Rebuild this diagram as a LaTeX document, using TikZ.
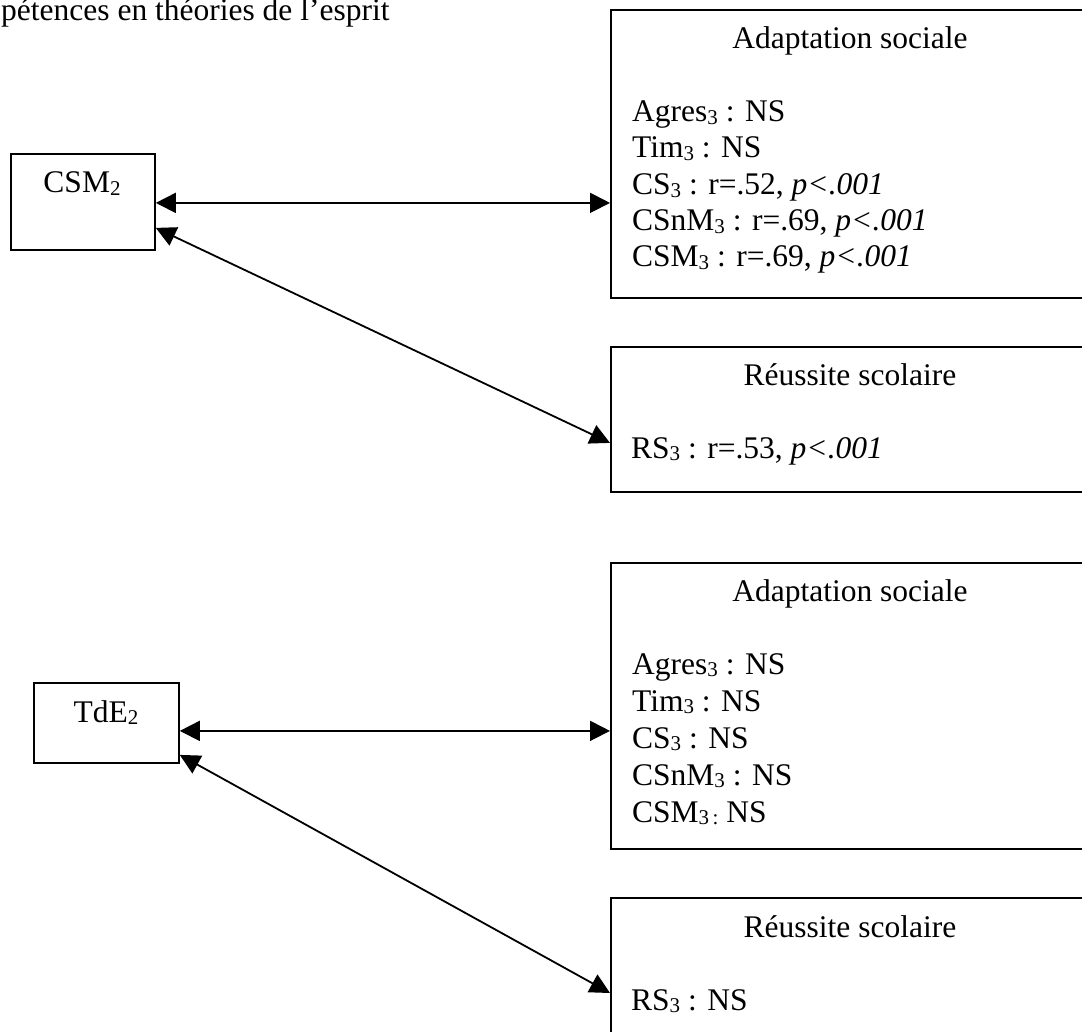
\documentclass[tikz,border=0pt]{standalone}
\usepackage{fontspec}
\setmainfont{Liberation Serif}
\usetikzlibrary{arrows.meta}
% word-processor style subscript: two thirds size, slightly lowered
\newcommand\lowidx[1]{\raisebox{-0.09em}{\fontsize{21}{21}\selectfont #1}}

\begin{document}
\begin{tikzpicture}[x=1pt,y=-1pt,
  box/.style={draw, line width=1.8pt, anchor=north west, inner sep=0pt},
  lbl/.style={inner sep=0pt, font=\fontsize{31.5}{36.5}\selectfont},
  line/.style={lbl, anchor=base west},
  head/.style={lbl, anchor=base},
  link/.style={line width=1.8pt,
    {Triangle[length=20pt,width=20pt]}-{Triangle[length=20pt,width=20pt]}}]
\useasboundingbox (0,0) rectangle (1082,1032);
\clip (0,0) rectangle (1082,1032);

% heading line
\node[line] (title) at (1,21) {pétences en théories de l’esprit};

% left-hand measures
\node[box, minimum width=144pt, minimum height=96pt] (csm) at (10,153) {};
\node[head] (csmlbl) at (82,193) {CSM\lowidx{2}};
\node[box, minimum width=145pt, minimum height=80pt] (tde) at (33,682) {};
\node[head] (tdelbl) at (106,722) {TdE\lowidx{2}};

% right-hand outcome boxes, first block
\node[box, minimum width=482pt, minimum height=288pt] (ad1) at (610,9) {};
\node[head] (ad1h) at (850,49) {Adaptation sociale};
\node[line] (ad1a) at (632,122) {Agres\lowidx{3} : NS};
\node[line] (ad1b) at (632,158) {Tim\lowidx{3} : NS};
\node[line] (ad1c) at (632,195) {CS\lowidx{3} : r=.52, \textit{p<.001}};
\node[line] (ad1d) at (632,231) {CSnM\lowidx{3} : r=.69, \textit{p<.001}};
\node[line] (ad1e) at (632,267) {CSM\lowidx{3} : r=.69, \textit{p<.001}};

\node[box, minimum width=482pt, minimum height=145pt] (rs1) at (610,346) {};
\node[head] (rs1h) at (850,385) {Réussite scolaire};
\node[line] (rs1a) at (631,458) {RS\lowidx{3} : r=.53, \textit{p<.001}};

% second block
\node[box, minimum width=482pt, minimum height=286pt] (ad2) at (610,562) {};
\node[head] (ad2h) at (850,601) {Adaptation sociale};
\node[line] (ad2a) at (632,674) {Agres\lowidx{3} : NS};
\node[line] (ad2b) at (632,711) {Tim\lowidx{3} : NS};
\node[line] (ad2c) at (632,748) {CS\lowidx{3} : NS};
\node[line] (ad2d) at (632,785) {CSnM\lowidx{3} : NS};
\node[line] (ad2e) at (632,822) {CSM\lowidx{3\,:} NS};

\node[box, minimum width=482pt, minimum height=200pt] (rs2) at (610,897) {};
\node[head] (rs2h) at (850,937) {Réussite scolaire};
\node[line] (rs2a) at (631,1010) {RS\lowidx{3} : NS};

% correlations
\draw[link] ([yshift=-1pt]csm.east) -- ([yshift=-1pt]csm.east -| ad1.west);
\draw[link] ([yshift=-26pt]csm.east) -- ([yshift=-23.5pt]rs1.west);
\draw[link] ([yshift=-8pt]tde.east) -- ([yshift=-8pt]tde.east -| ad2.west);
\draw[link] ([yshift=-32pt]tde.east) -- ([yshift=-96pt]rs2.north west);
\end{tikzpicture}
\end{document}
